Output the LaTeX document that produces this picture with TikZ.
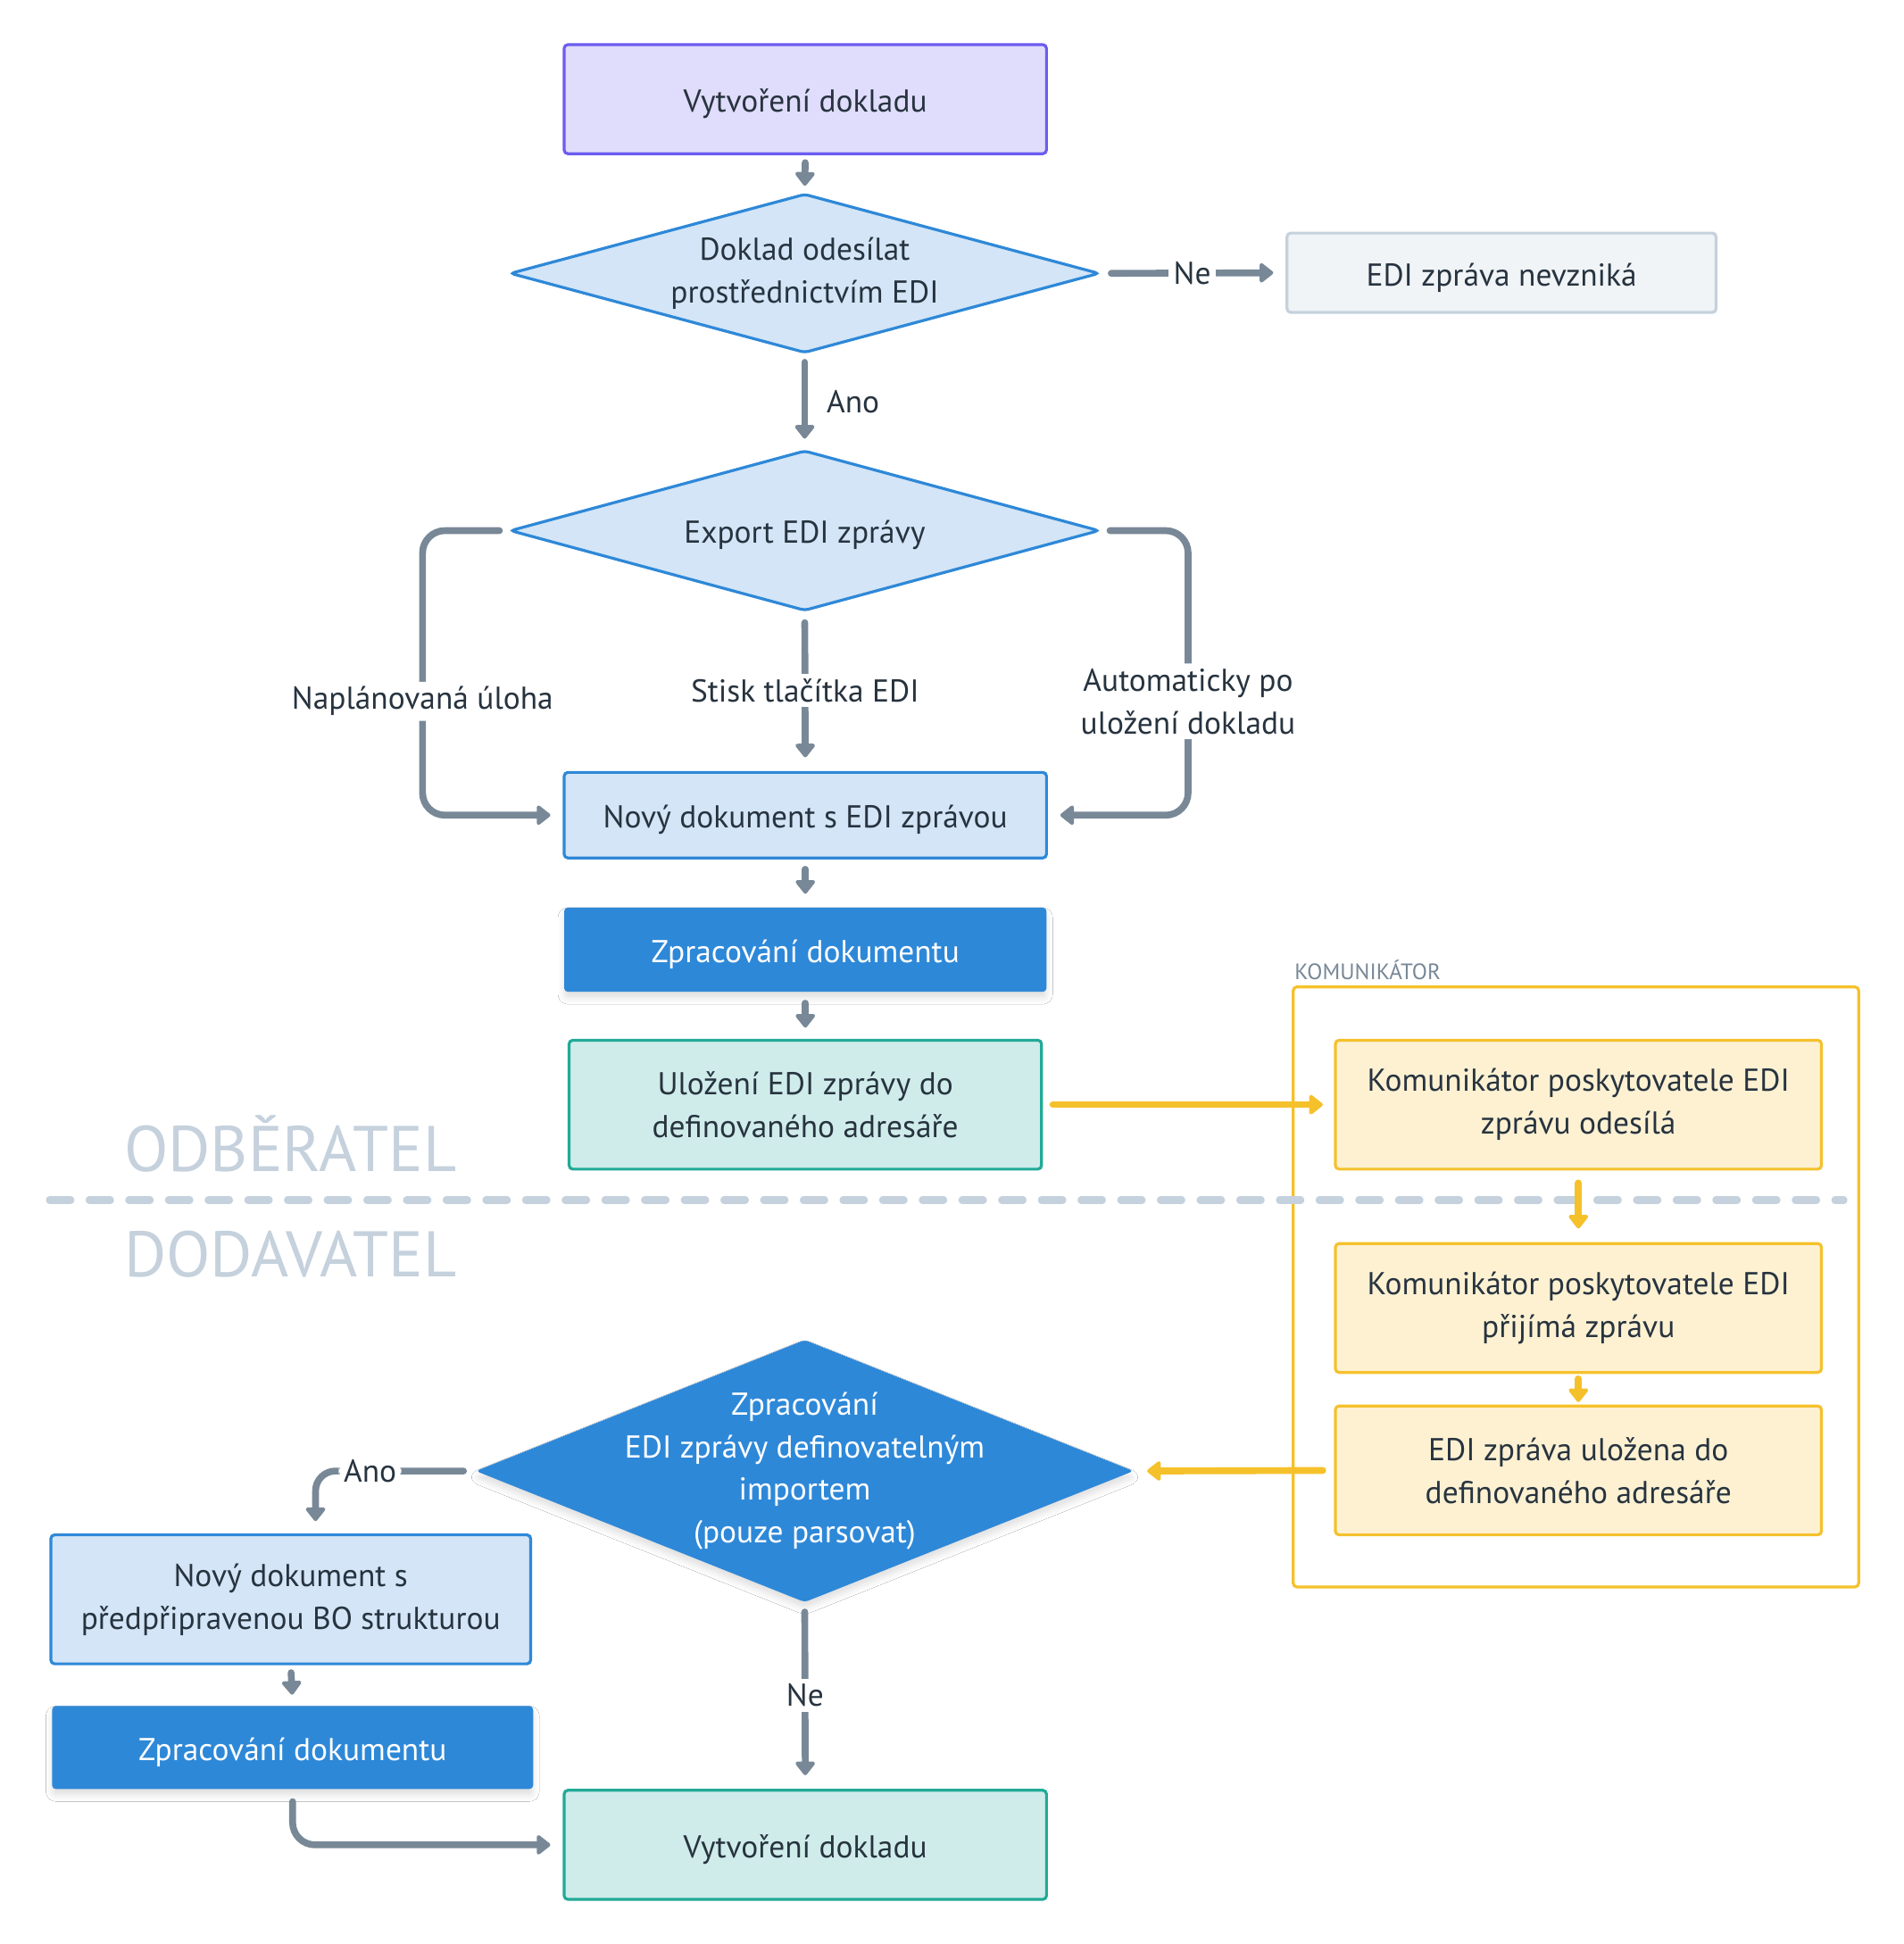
\documentclass[tikz,border=0pt]{standalone}
\usepackage{fontspec}
\setmainfont{PT Sans}
\usetikzlibrary{arrows.meta,shadows.blur,backgrounds}
\definecolor{txt}{HTML}{27333F}
\definecolor{gr}{HTML}{788897}
\definecolor{lav}{HTML}{E0DCFB}
\definecolor{lavb}{HTML}{6B5CF0}
\definecolor{lb}{HTML}{D3E5F6}
\definecolor{bl}{HTML}{2E88D8}
\definecolor{pale}{HTML}{F0F4F7}
\definecolor{paleb}{HTML}{C5D1DC}
\definecolor{tl}{HTML}{CFECEA}
\definecolor{tlb}{HTML}{21AA98}
\definecolor{yl}{HTML}{FDF1D2}
\definecolor{ylb}{HTML}{F5C12B}
\definecolor{lane}{HTML}{C5D1DC}
\begin{document}
\begin{tikzpicture}[x=1pt,y=-1pt,
  every node/.style={font=\fontsize{25.5}{34.5}\selectfont, text=txt, align=center, inner sep=0pt},
  lowtext/.style={execute at begin node={\rule{0pt}{26pt}}},
  box/.style={rectangle, rounded corners=3pt, line width=2.3pt},
  tbox/.style={box, lowtext},
  violetbox/.style={tbox, draw=lavb, fill=lav},
  lbluebox/.style={tbox, draw=bl, fill=lb},
  softshadow/.style={blur shadow={shadow xshift=0pt, shadow yshift=-5pt, shadow blur radius=5pt, shadow opacity=12}},
  dbluebox/.style={tbox, fill=bl, text=white, softshadow},
  palebox/.style={tbox, draw=paleb, fill=pale},
  tealbox/.style={tbox, draw=tlb, fill=tl},
  yelbox/.style={tbox, draw=ylb, fill=yl},
  dia/.style={rectangle, draw=none, lowtext},
  arr/.style={draw=gr, line width=5.5pt, line cap=round, -{Triangle[length=12pt,width=18pt,round]}},
  yarr/.style={arr, draw=ylb},
  lbl/.style={fill=white, inner sep=4pt}
]
\useasboundingbox (0,0) rectangle (1535,1568);

% nodes
\node[violetbox, minimum width=389pt, minimum height=88pt] (b1) at (649.5,80) {Vytvoření dokladu};
\node[dia, minimum width=474pt, minimum height=127pt] (d1) at (649,220.5) {Doklad odesílat\\prostřednictvím EDI};
\node[palebox, minimum width=346pt, minimum height=64pt] (ne) at (1211,220) {EDI zpráva nevzniká};
\node[dia, minimum width=474pt, minimum height=128pt] (d2) at (649,428) {Export EDI zprávy};
\node[lbluebox, minimum width=389pt, minimum height=69pt] (nd) at (649.5,657.5) {Nový dokument s EDI zprávou};
\node[dbluebox, minimum width=389pt, minimum height=68pt] (zd) at (649.5,766) {Zpracování dokumentu};
\node[tealbox, minimum width=381pt, minimum height=104pt] (ul) at (649.5,891) {Uložení EDI zprávy do\\definovaného adresáře};

\node[box, draw=ylb, fill=white, minimum width=456pt, minimum height=484pt] (kom) at (1271,1038) {};
\node[anchor=base west, font=\fontsize{18}{20}\selectfont, text=gr] (komlbl) at (1044,790) {KOMUNIKÁTOR};

\node[anchor=base west, font=\fontsize{52}{60}\selectfont, text=lane] (odb) at (100,945) {ODBĚRATEL};
\node[anchor=base west, font=\fontsize{52}{60}\selectfont, text=lane] (dod) at (100,1030) {DODAVATEL};
\draw[lane, line width=6pt, line cap=round, dash pattern=on 17pt off 15pt] (40,968) -- (1487,968);

\node[yelbox, minimum width=392pt, minimum height=104pt] (k1) at (1273,891) {Komunikátor poskytovatele EDI\\zprávu odesílá};
\node[yelbox, minimum width=392pt, minimum height=104pt] (k2) at (1273,1055) {Komunikátor poskytovatele EDI\\přijímá zprávu};
\node[yelbox, minimum width=392pt, minimum height=104pt] (k3) at (1273,1186) {EDI zpráva uložena do\\definovaného adresáře};

\node[dia, text=white, minimum width=530pt, minimum height=211pt] (d3) at (649,1186.5) {Zpracování\\EDI zprávy definovatelným\\importem\\(pouze parsovat)};
\node[lbluebox, minimum width=387pt, minimum height=104pt] (nb) at (234.5,1290) {Nový dokument s\\předpřipravenou BO strukturou};
\node[dbluebox, minimum width=388pt, minimum height=67pt] (zb) at (236,1409.5) {Zpracování dokumentu};
\node[tealbox, minimum width=389pt, minimum height=88pt] (v2) at (649.5,1488) {Vytvoření dokladu};

% diamonds on background
\begin{scope}[on background layer]
\fill[white] (0,0) rectangle (1535,1568);
\filldraw[draw=bl, fill=lb, line width=2.3pt, rounded corners=3pt] (d1.north) -- (d1.east) -- (d1.south) -- (d1.west) -- cycle;
\filldraw[draw=bl, fill=lb, line width=2.3pt, rounded corners=3pt] (d2.north) -- (d2.east) -- (d2.south) -- (d2.west) -- cycle;
\fill[bl, rounded corners=3pt, softshadow] (d3.north) -- (d3.east) -- (d3.south) -- (d3.west) -- cycle;
\end{scope}

% connectors
\draw[arr, shorten <=6pt, shorten >=7pt] (b1.south) -- (d1.north);
\draw[arr, shorten <=10pt, shorten >=10pt] (d1.east) -- node[lbl]{Ne} (ne.west);
\draw[arr, shorten <=8pt, shorten >=10pt] (d1.south) -- node[anchor=west, xshift=15pt]{Ano} (d2.north);
\draw[arr, rounded corners=18pt, shorten <=9pt, shorten >=10pt] (d2.west) -- ++(-71,0) |- node[lbl, pos=0.3]{Naplánovaná úloha} (nd.west);
\draw[arr, shorten <=10pt, shorten >=11pt] (d2.south) -- node[lbl]{Stisk tlačítka EDI} (nd.north);
\draw[arr, rounded corners=18pt, shorten <=9pt, shorten >=10pt] (d2.east) -- ++(72,0) |- node[lbl, pos=0.3]{Automaticky po\\uložení dokladu} (nd.east);
\draw[arr, shorten <=8pt, shorten >=10pt] (nd.south) -- (zd.north);
\draw[arr, shorten <=8pt, shorten >=9pt] (zd.south) -- (ul.north);
\draw[yarr, shorten <=8pt, shorten >=9pt] (ul.east) -- (k1.west);
\draw[yarr, shorten <=10pt, shorten >=11pt] (k1.south) -- (k2.north);
\draw[yarr, shorten <=4pt, shorten >=2pt] (k2.south) -- (k3.north);
\draw[yarr, shorten <=9pt, shorten >=11pt] (k3.west) -- (d3.east);
\draw[arr, rounded corners=16pt, shorten <=10pt, shorten >=10pt] (d3.west) -| node[lbl, pos=0.33]{Ano} ([xshift=20pt]nb.north);
\draw[arr, shorten <=6pt, shorten >=8pt] (nb.south) -- (zb.north);
\draw[arr, rounded corners=18pt, shorten <=9pt, shorten >=10pt] (zb.south) |- (v2.west);
\draw[arr, shorten <=8pt, shorten >=11pt] (d3.south) -- node[lbl]{Ne} (v2.north);
\end{tikzpicture}
\end{document}
